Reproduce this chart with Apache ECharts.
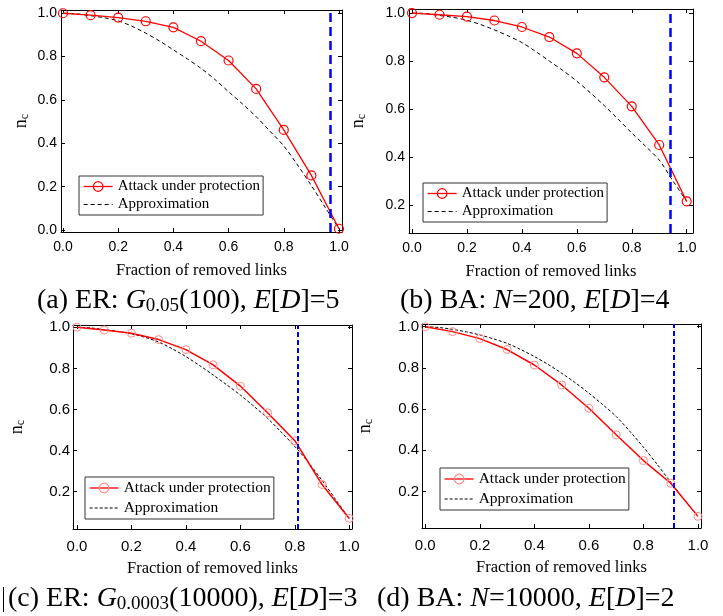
<!DOCTYPE html>
<html><head><meta charset="utf-8">
<script src="https://cdn.jsdelivr.net/npm/echarts@6/dist/echarts.min.js"></script>
<style>html,body{margin:0;padding:0;background:#fff}#c{width:723px;height:616px}</style>
</head><body><div id="c"></div>
<script>
// ---- data ----
const xRed = [0, 0.1, 0.2, 0.3, 0.4, 0.5, 0.6, 0.7, 0.8, 0.9, 1.0];
const redA = [1.0, 0.991, 0.980, 0.963, 0.935, 0.871, 0.782, 0.651, 0.462, 0.252, 0.006];
const redB = [1.0, 0.993, 0.985, 0.969, 0.942, 0.900, 0.832, 0.732, 0.611, 0.450, 0.215];
const redC = [1.0, 0.987, 0.971, 0.940, 0.891, 0.817, 0.714, 0.584, 0.448, 0.235, 0.070];
const redD = [1.0, 0.976, 0.942, 0.889, 0.814, 0.717, 0.604, 0.475, 0.350, 0.240, 0.079];

const xApprox = [0, 0.05, 0.1, 0.15, 0.2, 0.25, 0.3, 0.35, 0.4, 0.45, 0.5, 0.55, 0.6, 0.65, 0.7, 0.75, 0.8, 0.85, 0.9, 0.95, 1.0];
const apxA = [1.0, 0.997, 0.989, 0.979, 0.965, 0.940, 0.908, 0.872, 0.831, 0.790, 0.746, 0.695, 0.638, 0.582, 0.523, 0.456, 0.388, 0.300, 0.205, 0.105, 0.005];
const apxB = [1.0, 0.998, 0.990, 0.982, 0.970, 0.952, 0.930, 0.905, 0.877, 0.840, 0.800, 0.760, 0.716, 0.667, 0.614, 0.558, 0.500, 0.445, 0.387, 0.300, 0.215];
const apxC = [1.0, 0.997, 0.988, 0.980, 0.968, 0.951, 0.928, 0.895, 0.857, 0.814, 0.768, 0.720, 0.670, 0.615, 0.557, 0.490, 0.420, 0.342, 0.255, 0.162, 0.070];
const apxD = [1.0, 0.996, 0.987, 0.975, 0.960, 0.941, 0.919, 0.889, 0.855, 0.817, 0.774, 0.728, 0.677, 0.622, 0.564, 0.492, 0.415, 0.332, 0.245, 0.160, 0.079];

const cutoffs = [0.967, 0.942, 0.805, 0.906];

const xTicks = [0, 0.2, 0.4, 0.6, 0.8, 1.0];
const yTicksA = [0, 0.2, 0.4, 0.6, 0.8, 1.0];
const yTicksRest = [0.2, 0.4, 0.6, 0.8, 1.0];

const seriesNames = ['Attack under protection', 'Approximation'];
const xTitle = 'Fraction of removed links';
const captions = [
  '{p|(a) ER: }{i|G}{s|0.05}{p|(100), }{i|E}{p|[}{i|D}{p|]=5}',
  '{p|(b) BA: }{i|N}{p|=200, }{i|E}{p|[}{i|D}{p|]=4}',
  '{p|(c) ER: }{i|G}{s|0.0003}{p|(10000), }{i|E}{p|[}{i|D}{p|]=3}',
  '{p|(d) BA: }{i|N}{p|=10000, }{i|E}{p|[}{i|D}{p|]=2}'
];

// ---- layout / style ----
const SANS = 'Liberation Sans';
const SERIF = 'Liberation Serif';
const panels = [
  {red: redA, apx: apxA, yTicks: yTicksA, grid: {left: 61, top: 10, width: 281, height: 222},
   xr: [-0.0072, 1.011], yr: [-0.009, 1.015], tick: 14, xm: 8, ym: 4, yGap: 30,
   legend: {left: 79, top: 176}, lf: 15, big: true, cap: {left: 37, top: 286}},
  {red: redB, apx: apxB, yTicks: yTicksRest, grid: {left: 409, top: 9, width: 284, height: 224},
   xr: [-0.011, 1.023], yr: [0.083, 1.017], tick: 14, xm: 8, ym: 4, yGap: 41,
   legend: {left: 423, top: 183}, lf: 15, big: true, cap: {left: 400, top: 286}},
  {red: redC, apx: apxC, yTicks: yTicksRest, grid: {left: 73, top: 325, width: 279, height: 204},
   xr: [-0.0147, 1.01], yr: [0.0185, 1.011], tick: 15, xm: 10, ym: 3, yGap: 46,
   legend: {left: 85, top: 477}, lf: 15.5, big: false, cap: {left: 8, top: 584}},
  {red: redD, apx: apxD, yTicks: yTicksRest, grid: {left: 422, top: 324, width: 279, height: 204},
   xr: [-0.012, 1.011], yr: [0.0225, 1.013], tick: 15, xm: 10, ym: 3, yGap: 47,
   legend: {left: 440, top: 468}, lf: 15.5, big: false, cap: {left: 377, top: 584}}
];

const fmt = v => v.toFixed(1);
const grids = [], xAxes = [], yAxes = [], series = [], legends = [], titles = [];

panels.forEach((p, k) => {
  grids.push(Object.assign({containLabel: false}, p.grid));
  const line = {show: true, onZero: false, lineStyle: {color: '#000', width: 1}};
  const tick = (vals) => ({show: true, inside: true, length: 4, customValues: vals, lineStyle: {color: '#000', width: 1}});
  xAxes.push({
    type: 'value', gridIndex: k, position: 'bottom', min: p.xr[0], max: p.xr[1],
    axisLine: line, axisTick: tick(xTicks), splitLine: {show: false},
    axisLabel: {customValues: xTicks, formatter: fmt, fontFamily: SANS, fontSize: p.tick, color: '#000', margin: p.xm},
    name: xTitle, nameLocation: 'middle', nameGap: p.big ? 30 : 31,
    nameTextStyle: {fontFamily: SERIF, fontSize: 16.5, color: '#000'}
  });
  xAxes.push({
    type: 'value', gridIndex: k, position: 'top', min: p.xr[0], max: p.xr[1],
    axisLine: line, axisTick: tick(xTicks), axisLabel: {show: false}, splitLine: {show: false}
  });
  yAxes.push({
    type: 'value', gridIndex: k, position: 'left', min: p.yr[0], max: p.yr[1],
    axisLine: line, axisTick: tick(p.yTicks), splitLine: {show: false},
    axisLabel: {customValues: p.yTicks, formatter: fmt, fontFamily: SANS, fontSize: p.tick, color: '#000', margin: p.ym},
    name: '{n|n}{c|c}', nameLocation: 'middle', nameGap: p.yGap, nameRotate: 90,
    nameTextStyle: {rich: {
      n: {fontFamily: SERIF, fontSize: 18, lineHeight: 20, color: '#000'},
      c: {fontFamily: SERIF, fontSize: 12, lineHeight: 10, verticalAlign: 'bottom', color: '#000'}
    }}
  });
  yAxes.push({
    type: 'value', gridIndex: k, position: 'right', min: p.yr[0], max: p.yr[1],
    axisLine: line, axisTick: tick(p.yTicks), axisLabel: {show: false}, splitLine: {show: false}
  });

  const markerColor = p.big ? '#ff0000' : '#ff8a8a';
  series.push({
    type: 'line', name: seriesNames[0], xAxisIndex: 2 * k, yAxisIndex: 2 * k,
    data: xRed.map((x, i) => [x, p.red[i]]),
    symbol: 'circle', symbolSize: p.big ? 9 : 8,
    itemStyle: {color: 'rgba(255,255,255,0)', borderColor: markerColor, borderWidth: p.big ? 1.2 : 1},
    lineStyle: {color: '#ff0000', width: p.big ? 1.3 : 1.5},
    z: 4, silent: true
  });
  series.push({
    type: 'line', name: seriesNames[1], xAxisIndex: 2 * k, yAxisIndex: 2 * k,
    data: xApprox.map((x, i) => [x, p.apx[i]]),
    symbol: 'none', smooth: 0.3,
    itemStyle: {color: '#000'},
    lineStyle: {color: '#000', width: 1, type: p.big ? [4, 3] : [3, 2]},
    z: 3, silent: true,
    markLine: {
      silent: true, symbol: ['none', 'none'], label: {show: false},
      lineStyle: {color: '#0000ff', width: p.big ? 2.5 : 2, type: p.big ? [9, 5] : [5, 3]},
      emphasis: {disabled: true},
      data: [{xAxis: cutoffs[k]}]
    }
  });

  legends.push({
    left: p.legend.left, top: p.legend.top, orient: 'vertical', align: 'left',
    borderColor: '#333', borderWidth: 1, padding: [3, 3, 3, 4], itemGap: p.big ? 3 : 4,
    itemWidth: 29, itemHeight: 12, selectedMode: false,
    textStyle: {fontFamily: SERIF, fontSize: p.lf, color: '#000', lineHeight: 15},
    data: [
      {name: seriesNames[0], itemStyle: {color: 'rgba(255,255,255,0)', borderColor: markerColor, borderWidth: 1.2},
       lineStyle: {color: '#ff0000', width: 1.3}},
      {name: seriesNames[1], itemStyle: {color: 'rgba(0,0,0,0)', borderWidth: 0, opacity: 0},
       lineStyle: {color: '#000', width: 1, type: p.big ? [4, 3] : [3, 2]}}
    ]
  });

  titles.push({
    text: captions[k], left: p.cap.left, top: p.cap.top, padding: 0,
    textStyle: {fontWeight: 'normal', rich: {
      p: {fontFamily: SERIF, fontSize: 28, lineHeight: 30, fontWeight: 'normal', color: '#000'},
      i: {fontFamily: SERIF, fontSize: 28, lineHeight: 30, fontStyle: 'italic', fontWeight: 'normal', color: '#000'},
      s: {fontFamily: SERIF, fontSize: 19, lineHeight: 13, verticalAlign: 'bottom', fontWeight: 'normal', color: '#000'}
    }}
  });
});

const chart = echarts.init(document.getElementById('c'), null, {renderer: 'canvas'});
chart.setOption({
  animation: false,
  backgroundColor: '#fff',
  title: titles,
  grid: grids,
  xAxis: xAxes,
  yAxis: yAxes,
  legend: legends,
  series: series,
  graphic: [{type: 'line', shape: {x1: 3.5, y1: 587, x2: 3.5, y2: 612}, style: {stroke: '#000', lineWidth: 1}}]
});
</script>
</body></html>
